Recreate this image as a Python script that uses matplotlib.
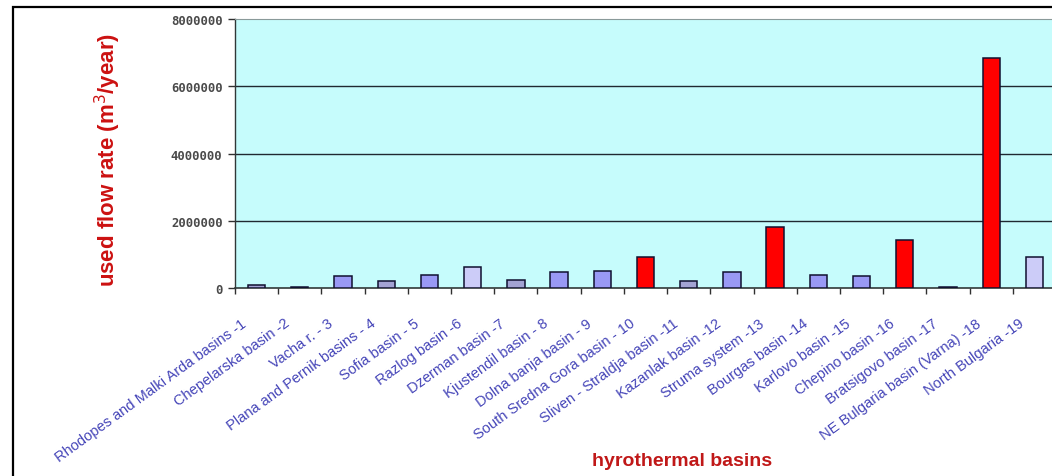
import matplotlib
matplotlib.use("Agg")
import matplotlib.pyplot as plt
from matplotlib.patches import Rectangle
from matplotlib.transforms import ScaledTranslation
import numpy as np

# Hydrothermal basins and their used flow rate (m3/year)
basins = [
    "Rhodopes and Malki Arda basins -1",
    "Chepelarska basin -2",
    "Vacha r. - 3",
    "Plana and Pernik basins - 4",
    "Sofia basin - 5",
    "Razlog basin -6",
    "Dzerman basin -7",
    "Kjustendil basin - 8",
    "Dolna banja basin - 9",
    "South Sredna Gora basin - 10",
    "Sliven - Straldja basin -11",
    "Kazanlak basin -12",
    "Struma system -13",
    "Bourgas basin -14",
    "Karlovo basin -15",
    "Chepino basin -16",
    "Bratsigovo basin -17",
    "NE Bulgaria basin (Varna) -18",
    "North Bulgaria -19",
]
flow_rate = [
    100000, 40000, 350000, 200000, 400000, 620000, 240000, 470000, 500000,
    920000, 200000, 470000, 1810000, 380000, 360000, 1430000, 40000,
    6840000, 920000,
]
# basin group used for the fill colour
group = [
    "grey", "dark", "blue", "grey", "blue", "light", "grey", "blue", "blue",
    "major", "grey", "blue", "major", "blue", "blue", "major", "dark",
    "major", "light",
]
y_ticks = [0, 2000000, 4000000, 6000000, 8000000]

fill = {
    "blue": "#9999F5",
    "grey": "#A3A3D3",
    "light": "#CCCCF8",
    "dark": "#404060",
    "major": "#FF0000",
}

W, H = 1052, 477
fig = plt.figure(figsize=(W / 100, H / 100), dpi=100)
fig.patch.set_facecolor("white")

# outer chart frame (continues past the right and bottom edges)
fig.patches.append(Rectangle((13 / W, -0.05), 1.2, (H - 8) / H + 0.05,
                             transform=fig.transFigure, fill=False,
                             edgecolor="black", linewidth=1.6))

x0, x1 = 235, 1056
y_bot, y_top = 289, 20
ax = fig.add_axes([x0 / W, (H - y_bot) / H, (x1 - x0) / W, (y_bot - y_top) / H])
ax.set_facecolor("#C6FCFC")

x = np.arange(len(basins))
ax.bar(x, flow_rate, width=0.4, color=[fill[g] for g in group],
       edgecolor="#101030", linewidth=1.1, zorder=3)

ax.set_xlim(-0.5, len(basins) - 0.5)
ax.set_ylim(0, 8000000)

for v in y_ticks[1:-1]:
    ax.axhline(v, color="#202830", linewidth=1.0, zorder=1)

ax.set_yticks(y_ticks)
ax.set_yticklabels([str(v) for v in y_ticks], fontsize=8.8, fontweight="bold",
                   color="#4a4a4a", family="DejaVu Sans Mono")
ax.tick_params(axis="y", direction="out", length=5, width=1, color="#303030", pad=4)

ax.set_xticks(np.arange(len(basins) + 1) - 0.5, minor=True)
ax.set_xticks(x)
ax.set_xticklabels(basins, rotation=36, ha="right", va="center",
                   rotation_mode="anchor", fontsize=10.5, color="#4545B8",
                   family="Liberation Sans")
ax.tick_params(axis="x", which="major", length=0, pad=24)
ax.tick_params(axis="x", which="minor", direction="out", length=4, width=1,
               color="#303030")
shift = ScaledTranslation(-12 / 100, 0, fig.dpi_scale_trans)
for lbl in ax.get_xticklabels():
    lbl.set_transform(lbl.get_transform() + shift)

ax.spines["right"].set_visible(False)
ax.spines["top"].set_color("#8a9a9a")
ax.spines["left"].set_color("#303838")
ax.spines["bottom"].set_color("#303838")
ax.spines["left"].set_linewidth(1.0)
ax.spines["bottom"].set_linewidth(1.2)

fig.text(108 / W, 1 - 160 / H, "used flow rate (m$^3$/year)", rotation=90,
         ha="center", va="center", fontsize=16, fontweight="bold",
         color="#CC1111", family="Liberation Sans")
fig.text(682 / W, 1 - 462 / H, "hyrothermal basins", ha="center", va="center",
         fontsize=14, fontweight="bold", color="#C01818",
         family="Liberation Sans")

fig.savefig("out.png", dpi=100, facecolor="white")
